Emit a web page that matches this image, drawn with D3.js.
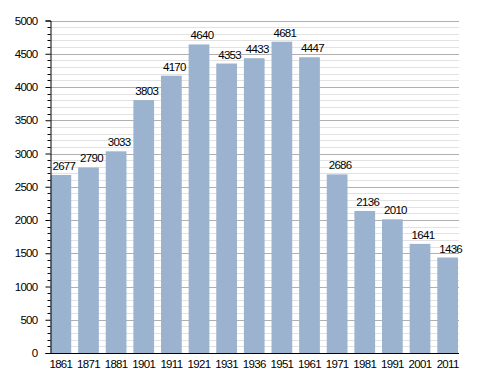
<!DOCTYPE html>
<html>
<head>
<meta charset="utf-8">
<script src="https://cdn.jsdelivr.net/npm/d3@7"></script>
<style>
  body { margin: 0; background: #fff; }
  svg text { font-family: "Liberation Sans", Arial, sans-serif; font-size: 11.5px; fill: #000; letter-spacing: -0.7px; }
</style>
</head>
<body>
<svg width="488" height="373"></svg>
<script>
const years = ["1861", "1871", "1881", "1901", "1911", "1921", "1931", "1936",
               "1951", "1961", "1971", "1981", "1991", "2001", "2011"];
const population = [2677, 2790, 3033, 3803, 4170, 4640, 4353, 4433,
                    4681, 4447, 2686, 2136, 2010, 1641, 1436];
const yTicks = [0, 500, 1000, 1500, 2000, 2500, 3000, 3500, 4000, 4500, 5000];

const svg = d3.select("svg");
const plotLeft = 50, plotRight = 459, plotTop = 20.5, plotBottom = 353;

const x = d3.scaleBand(years, [50.5, 458]).paddingInner(0.25).paddingOuter(0);
const y = d3.scaleLinear([0, 5000], [plotBottom, plotTop]);

// grid lines: light every 100, darker every 500
const minor = d3.range(100, 5001, 100).filter((v) => v % 500 !== 0);
svg.append("g")
  .selectAll("line")
  .data(minor)
  .join("line")
  .attr("x1", plotLeft).attr("x2", plotRight)
  .attr("y1", (d) => Math.round(y(d)) + 0.5)
  .attr("y2", (d) => Math.round(y(d)) + 0.5)
  .attr("stroke", "#e2e2e2");

svg.append("g")
  .selectAll("line")
  .data(yTicks.filter((d) => d > 0))
  .join("line")
  .attr("x1", plotLeft).attr("x2", plotRight)
  .attr("y1", (d) => Math.round(y(d)) + 0.5)
  .attr("y2", (d) => Math.round(y(d)) + 0.5)
  .attr("stroke", "#b0b0b0");

// bars
svg.append("g")
  .selectAll("rect")
  .data(population)
  .join("rect")
  .attr("x", (d, i) => x(years[i]))
  .attr("width", x.bandwidth())
  .attr("y", (d) => y(d))
  .attr("height", (d) => plotBottom - y(d))
  .attr("fill", "#9bb3cf");

// value labels (sit a little right of the bar centre, as in the original)
svg.append("g")
  .selectAll("text")
  .data(population)
  .join("text")
  .attr("x", (d, i) => x(years[i]) + x.bandwidth() / 2 + 3)
  .attr("y", (d) => y(d) - 5)
  .attr("text-anchor", "middle")
  .text((d) => d);

// y axis with minor ticks
const axisY = d3.axisLeft(y).tickValues(yTicks).tickFormat(d3.format("d")).tickSize(5).tickPadding(8);
const gy = svg.append("g").attr("transform", `translate(${plotLeft + 0.5},0)`).call(axisY);
gy.select(".domain").attr("stroke", "#000");
gy.selectAll(".tick line").attr("stroke", "#000");
gy.selectAll(".tick text").style("font-size", "11.5px");
svg.append("g")
  .selectAll("line")
  .data(minor)
  .join("line")
  .attr("x1", plotLeft - 2.5).attr("x2", plotLeft + 0.5)
  .attr("y1", (d) => Math.round(y(d)) + 0.5)
  .attr("y2", (d) => Math.round(y(d)) + 0.5)
  .attr("stroke", "#000");

// x axis
const axisX = d3.axisBottom(x).tickSize(0).tickPadding(6);
const gx = svg.append("g").attr("transform", `translate(0,${plotBottom + 0.5})`).call(axisX);
gx.select(".domain").attr("stroke", "#000").attr("d", `M${plotLeft},0H${plotRight}`);
gx.selectAll(".tick text").style("font-size", "11.5px");
</script>
</body>
</html>
